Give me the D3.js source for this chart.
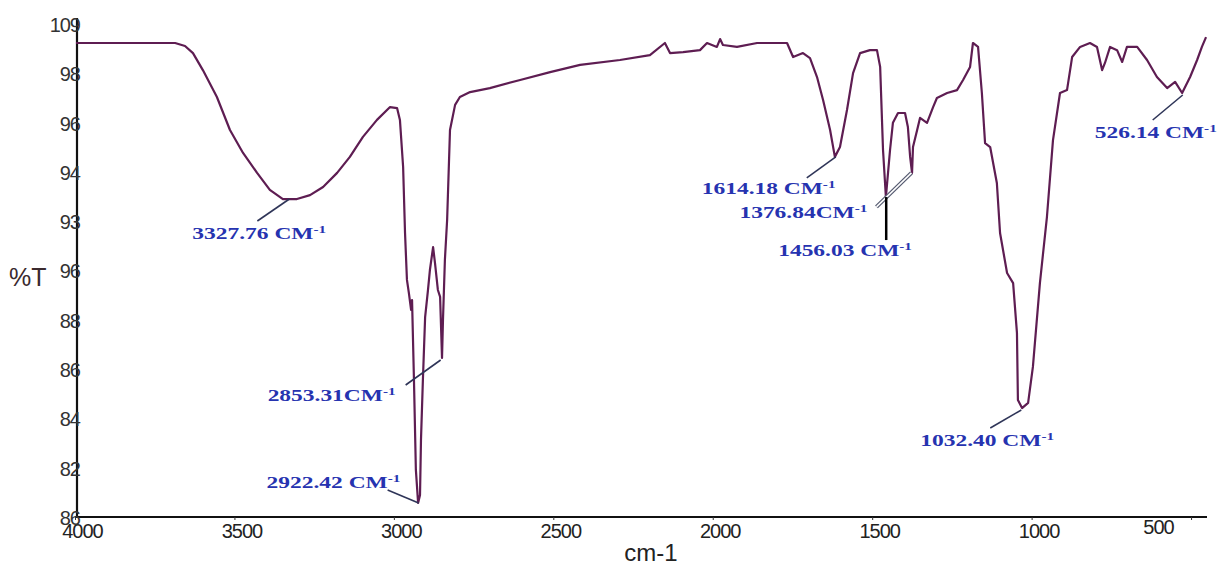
<!DOCTYPE html>
<html>
<head>
<meta charset="utf-8">
<script src="https://cdn.jsdelivr.net/npm/d3@7"></script>
<style>
  body { margin: 0; background: #fff; }
</style>
</head>
<body>
<div id="chart"></div>
<script>
// FTIR spectrum, %T vs wavenumber (cm-1)
var wavenumber = [3997, 3686, 3655, 3630, 3599, 3555, 3514, 3473, 3429, 3389, 3348, 3304, 3263, 3222, 3178, 3138, 3097, 3053, 3012, 2990,
  2981, 2971, 2965, 2959, 2953, 2946, 2943, 2937, 2931, 2924, 2918, 2915, 2909, 2902, 2893, 2887, 2877, 2871, 2862, 2855,
  2849, 2846, 2840, 2833, 2824, 2808, 2793, 2761, 2699, 2604, 2510, 2416, 2291, 2197, 2150, 2134, 2093, 2040, 2018, 1987,
  1977, 1968, 1924, 1861, 1767, 1748, 1717, 1695, 1673, 1654, 1632, 1617, 1601, 1579, 1560, 1538, 1507, 1485, 1475, 1466,
  1457, 1444, 1435, 1419, 1397, 1388, 1381, 1375, 1372, 1359, 1350, 1328, 1309, 1297, 1265, 1234, 1215, 1193, 1184, 1168,
  1156, 1146, 1130, 1109, 1099, 1077, 1058, 1046, 1043, 1030, 1011, 996, 974, 952, 933, 911, 889, 873, 848, 817,
  795, 779, 770, 754, 732, 716, 701, 669, 638, 607, 575, 550, 528, 503, 481, 466, 453];
var transmittance = [99.27, 99.27, 99.15, 98.86, 98.17, 97.08, 95.74, 94.81, 94.0, 93.31, 92.94, 92.94, 93.10, 93.43, 94.0, 94.65, 95.46, 96.15, 96.67, 96.63,
  96.15, 94.24, 91.56, 89.66, 89.13, 88.44, 88.84, 85.6, 81.95, 80.61, 80.93, 83.16, 85.6, 88.15, 89.25, 90.06, 90.99, 90.34, 89.25, 88.97,
  86.49, 88.03, 90.47, 92.09, 95.74, 96.76, 97.08, 97.28, 97.44, 97.77, 98.09, 98.38, 98.58, 98.78, 99.27, 98.86, 98.90, 98.98, 99.27, 99.11,
  99.43, 99.19, 99.11, 99.27, 99.27, 98.70, 98.86, 98.66, 97.89, 96.96, 95.74, 94.65, 95.05, 96.55, 98.05, 98.86, 98.98, 98.98, 98.30, 94.93,
  93.02, 94.93, 96.03, 96.43, 96.43, 95.86, 94.65, 94.0, 95.05, 95.74, 96.23, 96.03, 96.67, 97.04, 97.24, 97.36, 97.77, 98.30, 99.27, 99.11,
  97.24, 95.21, 95.05, 93.59, 91.56, 89.94, 89.53, 87.51, 84.79, 84.46, 84.67, 86.13, 89.53, 92.21, 95.33, 97.24, 97.36, 98.70, 99.11, 99.27,
  99.11, 98.17, 98.46, 99.11, 98.98, 98.50, 99.11, 99.11, 98.58, 97.89, 97.44, 97.69, 97.24, 97.89, 98.58, 99.11, 99.51];

var xTickValues = [4000, 3500, 3000, 2500, 2000, 1500, 1000, 500];
var yTickValues = [100, 98, 96, 94, 92, 90, 88, 86, 84, 82, 80];
var yTickLabels = ["109", "98", "96", "94", "93", "96", "88", "86", "84", "82", "86"];

var peakWavenumber = [3327.76, 2853.31, 2922.42, 1614.18, 1376.84, 1456.03, 1032.40, 526.14];
var peakT = [92.94, 86.41, 80.61, 94.65, 94.0, 93.02, 84.38, 97.16];
var peakLabel = ["3327.76 CM", "2853.31CM", "2922.42 CM", "1614.18 CM", "1376.84CM", "1456.03 CM", "1032.40 CM", "526.14 CM"];

// leader end (lx,ly) and label start (tx,ty) offsets from the peak, in px
var labelLayout = [
  {lx: -32, ly: 22, tx: -97, ty: 40},
  {lx: -35, ly: 25, tx: -173, ty: 41},
  {lx: -31, ly: -13, tx: -152, ty: -15},
  {lx: -29, ly: 21, tx: -134, ty: 37},
  {lx: -35, ly: 34, tx: -172, ty: 45, dbl: true},
  {lx: 0, ly: 43, tx: -108, ty: 59, black: true},
  {lx: -31, ly: 18, tx: -101, ty: 36},
  {lx: -30, ly: 25, tx: -88, ty: 43}
];

var width = 1220, height = 566;

var svg = d3.select("#chart").append("svg")
    .attr("width", width)
    .attr("height", height);

var x = d3.scaleLinear().domain([4000, 450]).range([75, 1207]);
var y = d3.scaleLinear().domain([80, 100]).range([518, 25]);

// x axis
var xAxis = svg.append("g")
    .attr("transform", "translate(0,517)")
    .call(d3.axisBottom(x).tickValues(xTickValues).tickSize(3).tickFormat(d3.format("d")));
xAxis.select(".domain").attr("d", "M75,0H1207").attr("stroke", "#111").attr("stroke-width", 2.2);
xAxis.selectAll(".tick line").attr("stroke", "#333");
xAxis.selectAll(".tick text")
    .attr("font-family", "Liberation Sans, Arial, sans-serif")
    .attr("font-size", 20)
    .attr("fill", "#222")
    .attr("letter-spacing", -1)
    .attr("dx", 7)
    .attr("dy", 18)
    .attr("y", 3);
xAxis.selectAll(".tick").filter(function (d) { return d === 500; }).select("text")
    .attr("dx", -33).attr("dy", 14);

// y axis: labels right-aligned over the axis line
var yAxis = svg.append("g")
    .attr("transform", "translate(77,0)")
    .call(d3.axisLeft(y).tickValues(yTickValues).tickSize(0)
      .tickFormat(function (d, i) { return yTickLabels[i]; }));
yAxis.select(".domain").attr("d", "M0,18V518").attr("stroke", "#111").attr("stroke-width", 2.2);
yAxis.selectAll(".tick text")
    .attr("font-family", "Liberation Sans, Arial, sans-serif")
    .attr("font-size", 20)
    .attr("fill", "#333")
    .attr("letter-spacing", -1)
    .attr("x", 3);
yAxis.raise();

svg.append("text")
    .attr("x", 9).attr("y", 286)
    .attr("font-family", "Liberation Sans, Arial, sans-serif")
    .attr("font-size", 25)
    .attr("fill", "#3a2a2e")
    .text("%T");

svg.append("text")
    .attr("x", 651).attr("y", 561)
    .attr("text-anchor", "middle")
    .attr("font-family", "Liberation Sans, Arial, sans-serif")
    .attr("font-size", 24)
    .attr("fill", "#222")
    .text("cm-1");

// spectrum
var pts = wavenumber.map(function (w, i) { return [w, transmittance[i]]; });
var line = d3.line()
    .x(function (d) { return x(d[0]); })
    .y(function (d) { return y(d[1]); });

svg.append("path")
    .datum(pts)
    .attr("d", line)
    .attr("fill", "none")
    .attr("stroke", "#5e1d52")
    .attr("stroke-width", 2.2)
    .attr("stroke-linejoin", "round");

// peak annotations
var ann = svg.append("g");
peakWavenumber.forEach(function (w, i) {
  var px = x(w), py = y(peakT[i]), L = labelLayout[i];
  if (L.dbl) {
    ann.append("line")
        .attr("x1", px).attr("y1", py).attr("x2", px + L.lx).attr("y2", py + L.ly)
        .attr("stroke", "#555a70").attr("stroke-width", 4);
    ann.append("line")
        .attr("x1", px).attr("y1", py).attr("x2", px + L.lx).attr("y2", py + L.ly)
        .attr("stroke", "#fff").attr("stroke-width", 1.5);
  } else {
    ann.append("line")
        .attr("x1", px).attr("y1", py).attr("x2", px + L.lx).attr("y2", py + L.ly)
        .attr("stroke", L.black ? "#000" : "#2f3558")
        .attr("stroke-width", L.black ? 2.5 : 1.6);
  }
  var t = ann.append("text")
      .attr("transform", "translate(" + (px + L.tx) + "," + (py + L.ty) + ") scale(1.38,1)")
      .attr("font-family", "Liberation Serif, Times New Roman, serif")
      .attr("font-weight", "bold")
      .attr("font-size", 17)
      .attr("fill", "#2633b0");
  t.append("tspan").text(peakLabel[i]);
  t.append("tspan").attr("font-size", 11).attr("dy", -6).text("-1");
});
</script>
</body>
</html>
